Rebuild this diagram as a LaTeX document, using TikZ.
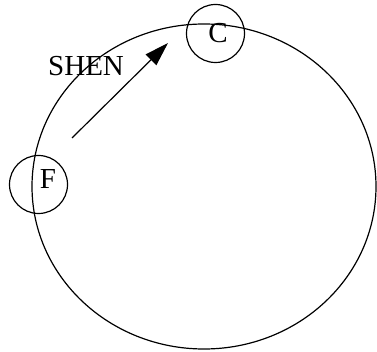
\documentclass[tikz,border=0pt]{standalone}
\usepackage{fontspec}
\setmainfont{Liberation Serif}
\usetikzlibrary{arrows.meta,positioning}

\tikzset{
  orbitnode/.style={draw,circle,minimum size=58pt,inner sep=0pt,line width=1.2pt,
    font=\fontsize{29}{34}\selectfont},
  tagtext/.style={font=\fontsize{29}{34}\selectfont,inner sep=0pt}
}

\begin{document}
\begin{tikzpicture}[x=1pt,y=-1pt]
  \useasboundingbox (0,0) rectangle (377,352);
  % orbit
  \draw[line width=1.2pt] (204,186.5) ellipse [x radius=172,y radius=162.5];
  \node[orbitnode] (C) at (215.5,33.5) {\hspace*{5pt}C};
  \node[orbitnode,label={[tagtext,xshift=9.5pt,yshift=5pt]center:F}] (F) at (38.5,184.5) {};
  \coordinate (shenFrom) at (72,138);
  \coordinate (shenTo) at (168,43);
  \draw[-{Triangle[length=24pt,width=15pt]},line width=1.2pt] (shenFrom) -- (shenTo);
  \node[tagtext,anchor=base west] (shen) at (48,76) {SHEN};
\end{tikzpicture}
\end{document}
